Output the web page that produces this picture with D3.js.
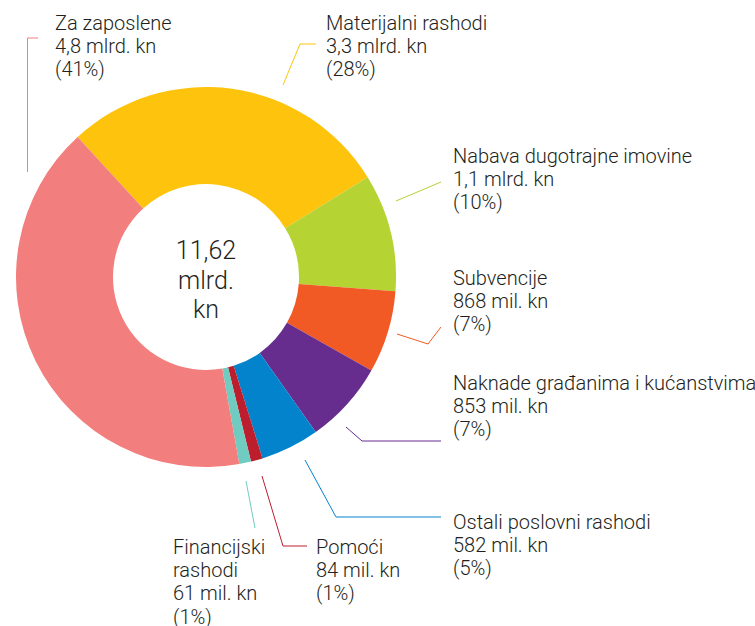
<!DOCTYPE html>
<html><head><meta charset="utf-8">
<script src="https://cdn.jsdelivr.net/npm/d3@7"></script>
<style>
html,body{margin:0;padding:0;background:#fff;}
svg{display:block;}
text{font-family:Roboto,"Open Sans",sans-serif;font-weight:300;fill:#231f20;}
</style></head>
<body>
<script>
// ---- data ----
const categories = ["Materijalni rashodi","Nabava dugotrajne imovine","Subvencije","Naknade građanima i kućanstvima","Ostali poslovni rashodi","Pomoći","Financijski rashodi","Za zaposlene"];
const shares = [28, 10, 7, 7, 5, 1, 1, 41]; // % of total (slice sizes)
const amountLabels = ["3,3 mlrd. kn","1,1 mlrd. kn","868 mil. kn","853 mil. kn","582 mil. kn","84 mil. kn","61 mil. kn","4,8 mlrd. kn"];
const percentLabels = ["(28%)","(10%)","(7%)","(7%)","(5%)","(1%)","(1%)","(41%)"];
const colors = ["#fec40d","#b6d334","#f15a25","#662d8f","#0483cd","#bd1e2e","#70cbc0","#f27e7e"];
const totalLabel = ["11,62","mlrd.","kn"];

// ---- layout ----
const W = 755, H = 626;
const cx = 206, cy = 277, R = 190, r0 = 93;
const startDeg = -42.5;
const labelLayout = [
  {x:326, y:30, lines:null, leader:[[283,85],[300,44],[316,44]]},
  {x:453, y:163, lines:null, leader:[[396,201],[441,182]]},
  {x:453, y:285, lines:null, leader:[[397,334],[428,344],[441,327]]},
  {x:453, y:390, lines:null, leader:[[346,427],[362,441],[441,441]]},
  {x:453, y:529, lines:null, leader:[[305,460],[336,517],[441,517]]},
  {x:316, y:554, lines:null, leader:[[262,476],[283,546],[307,546]]},
  {x:173, y:554, lines:["Financijski","rashodi"], leader:[[246,481],[255,528]]},
  {x:55, y:30, lines:null, leader:[[38,38],[27.5,38],[27.5,172]]}
];
const lineH = 23.2;

const svg = d3.select("body").append("svg").attr("width",W).attr("height",H);

const a0 = startDeg*Math.PI/180;
const pie = d3.pie().sort(null).value(d=>d).startAngle(a0).endAngle(a0 + 2*Math.PI);
const arc = d3.arc().innerRadius(r0).outerRadius(R);
const arcs = pie(shares);

const g = svg.append("g").attr("transform",`translate(${cx},${cy})`);
g.selectAll("path").data(arcs).join("path")
  .attr("d",arc).attr("fill",(d,i)=>colors[i]);

// center text
g.selectAll("text.total").data(totalLabel).join("text")
  .attr("class","total").attr("text-anchor","middle")
  .attr("x",0).attr("y",(d,i)=>-18 + i*29.5)
  .attr("font-size",25).text(d=>d);

// leaders
const line = d3.line();
svg.selectAll("path.leader").data(labelLayout).join("path")
  .attr("class","leader").attr("d",d=>line(d.leader))
  .attr("fill","none").attr("stroke",(d,i)=>colors[i]).attr("stroke-width",1);

// labels
labelLayout.forEach((L,i)=>{
  const lines = (L.lines || [categories[i]]).concat([amountLabels[i], percentLabels[i]]);
  const t = svg.append("text").attr("font-size",20);
  lines.forEach((s,k)=>{
    t.append("tspan").attr("x",L.x).attr("y",L.y + k*lineH).text(s);
  });
});
</script>
</body></html>
